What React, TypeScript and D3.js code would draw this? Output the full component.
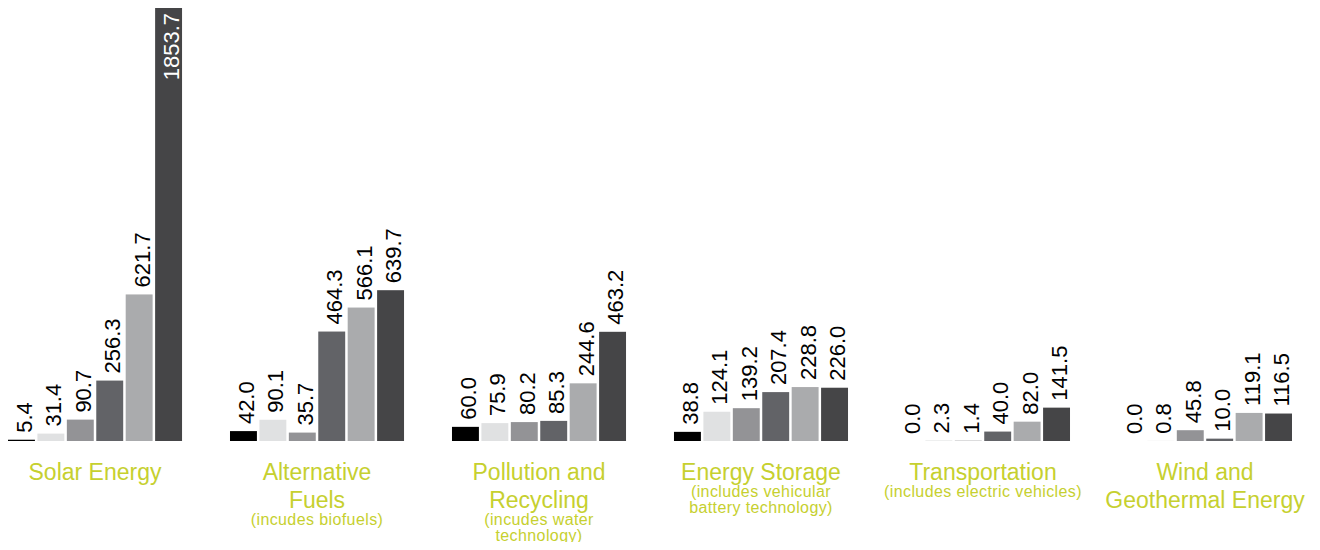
import { useRef, useEffect } from "react";
import * as d3 from "d3";

const categories = ["Solar Energy", "Alternative Fuels", "Pollution and Recycling", "Energy Storage", "Transportation", "Wind and Geothermal Energy"];
const titleLines = [["Solar Energy"], ["Alternative", "Fuels"], ["Pollution and", "Recycling"], ["Energy Storage"], ["Transportation"], ["Wind and", "Geothermal Energy"]];
const subLines = [[], ["(incudes biofuels)"], ["(incudes water", "technology)"], ["(includes vehicular", "battery technology)"], ["(includes electric vehicles)"], []];
const series = ["s1", "s2", "s3", "s4", "s5", "s6"];
const seriesColors = ["#000000", "#e0e1e2", "#939396", "#626367", "#aaabad", "#454547"];
const values = [
  [5.4, 31.4, 90.7, 256.3, 621.7, 1853.7],
  [42.0, 90.1, 35.7, 464.3, 566.1, 639.7],
  [60.0, 75.9, 80.2, 85.3, 244.6, 463.2],
  [38.8, 124.1, 139.2, 207.4, 228.8, 226.0],
  [0.0, 2.3, 1.4, 40.0, 82.0, 141.5],
  [0.0, 0.8, 45.8, 10.0, 119.1, 116.5],
];

const W = 1320, H = 550;
const FONT = "'Liberation Sans', Arial, Helvetica, sans-serif";
const LABEL = "#c6d02f";

export default function App() {
  const ref = useRef<SVGSVGElement>(null);

  useEffect(() => {
    if (!ref.current) return;
    const svg = d3.select(ref.current); svg.selectAll("*").remove();
    const base = 441;
    const x0 = d3.scaleBand().domain(categories).range([8, 1292]).paddingInner(0.216).paddingOuter(0);
    const x1 = d3.scaleBand().domain(series).range([0, x0.bandwidth()]).paddingInner(0.085).paddingOuter(0);
    const y = d3.scaleLinear().domain([0, d3.max(values.flat())!]).range([base, 4]);

    const groups = svg.selectAll("g.grp").data(categories).join("g").attr("class", "grp")
      .attr("transform", c => `translate(${x0(c)},0)`);

    groups.each(function (c, ci) {
      const g = d3.select(this);
      const rows = values[ci].map((v, si) => ({ v, s: series[si], color: seriesColors[si] }));
      g.selectAll("rect").data(rows).join("rect")
        .attr("x", d => x1(d.s)!).attr("width", x1.bandwidth())
        .attr("y", d => y(d.v)).attr("height", d => base - y(d.v))
        .attr("fill", d => d.color);
      g.selectAll("text.val").data(rows).join("text").attr("class", "val")
        .each(function (d) {
          const t = d3.select(this);
          const tx = x1(d.s)! + x1.bandwidth() - 3;
          const inside = y(d.v) < 80;
          const ty = inside ? y(d.v) + 9 : y(d.v) - 7;
          t.attr("transform", `translate(${tx},${ty}) rotate(-90)`)
            .attr("text-anchor", inside ? "end" : "start")
            .attr("fill", inside ? "#ffffff" : "#000000")
            .attr("font-size", "22px").attr("font-family", FONT)
            .text(d.v.toFixed(1));
        });
      const cx = x0.bandwidth() / 2;
      const tl = titleLines[ci];
      tl.forEach((line, li) => {
        g.append("text").attr("x", cx).attr("y", 480 + li * 28).attr("text-anchor", "middle")
          .attr("fill", LABEL).attr("font-size", "23px").attr("font-family", FONT).text(line);
      });
      const subStart = 480 + (tl.length - 1) * 28 + 17;
      subLines[ci].forEach((line, li) => {
        g.append("text").attr("x", cx).attr("y", subStart + li * 15.5).attr("text-anchor", "middle")
          .attr("fill", LABEL).attr("font-size", "16px").attr("letter-spacing", "0.4px")
          .attr("font-family", FONT).text(line);
      });
    });
  }, []);

  return (
    <div style={{ margin: -8, background: "#ffffff", width: W, height: H }}>
      <svg ref={ref} width={W} height={H} style={{ display: "block" }} />
    </div>
  );
}
